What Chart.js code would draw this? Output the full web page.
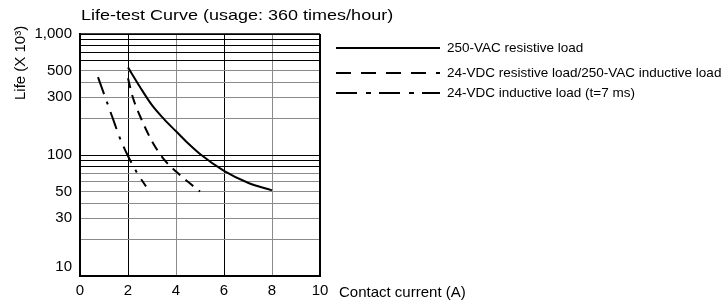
<!DOCTYPE html>
<html>
<head>
<meta charset="utf-8">
<script src="https://cdn.jsdelivr.net/npm/chart.js@4.4.1/dist/chart.umd.min.js"></script>
<style>
  html, body { margin: 0; padding: 0; background: #fff; }
  #wrap { width: 721px; height: 302px; position: relative; }
</style>
</head>
<body>
<div id="wrap"><canvas id="lifeChart"></canvas></div>
<script>
const chartTitle = 'Life-test Curve (usage: 360 times/hour)';
const yTitle = 'Life (X 10³)';
const xTitle = 'Contact current (A)';
const seriesNames = [
    '250-VAC resistive load',
    '24-VDC resistive load/250-VAC inductive load',
    '24-VDC inductive load (t=7 ms)'
];

// current (A) and life (x 10^3 operations)
const resistiveX = [2, 2.5, 3, 3.5, 4, 4.5, 5, 6, 7, 8];
const resistiveY = [530, 365, 258, 198, 157, 125, 102, 74, 59, 51];
const dcResistiveX = [2, 2.2, 2.5, 3, 3.5, 4, 4.5, 5];
const dcResistiveY = [430, 300, 210, 130, 92, 73, 60, 50];
const dcInductiveX = [0.75, 1.05, 1.35, 1.65, 2, 2.4, 2.75];
const dcInductiveY = [440, 300, 205, 140, 98, 70, 55];

const xTickValues = [0, 2, 4, 6, 8, 10];
const yGridValues = [10, 20, 30, 40, 50, 60, 70, 80, 90, 100, 200, 300, 400, 500, 600, 700, 800, 900, 1000];
const yLabelValues = [10, 30, 50, 100, 300, 500, 1000];
const yDarkLines = [100, 90, 80, 600, 700, 800, 900, 1000];
const xDarkLines = [2, 6, 10];

const FONT = '"Liberation Sans", Arial, sans-serif';
const dashes = [[], [10, 7], [18, 8, 3, 8]];
const legendDashes = [[], [15, 10], [21, 9, 5, 8]];

function toPoints(xs, ys) {
    return xs.map((x, i) => ({ x: x, y: ys[i] }));
}

const seriesPoints = [
    toPoints(resistiveX, resistiveY),
    toPoints(dcResistiveX, dcResistiveY),
    toPoints(dcInductiveX, dcInductiveY)
];

// title, axis titles and legend sit outside the plot like in the datasheet
const sheetText = {
    id: 'sheetText',
    afterDraw(chart) {
        const ctx = chart.ctx;
        ctx.save();
        ctx.fillStyle = '#000';
        ctx.textAlign = 'left';
        ctx.textBaseline = 'alphabetic';
        ctx.font = '15px ' + FONT;

        // the datasheet title is set wide
        ctx.save();
        ctx.translate(81, 20);
        ctx.scale(1.2, 1);
        ctx.fillText(chartTitle, 0, 0);
        ctx.restore();

        ctx.fillText(xTitle, 339, 297);

        ctx.save();
        ctx.translate(25, 100);
        ctx.rotate(-Math.PI / 2);
        ctx.fillText(yTitle, 0, 0);
        ctx.restore();

        const rows = [48, 73, 93];
        ctx.font = '13.5px ' + FONT;
        ctx.textBaseline = 'middle';
        rows.forEach((y, i) => {
            ctx.strokeStyle = '#000';
            ctx.lineWidth = 2;
            ctx.setLineDash(legendDashes[i]);
            ctx.beginPath();
            ctx.moveTo(336, y);
            ctx.lineTo(440, y);
            ctx.stroke();
            ctx.setLineDash([]);
            ctx.fillText(seriesNames[i], 447, y);
        });

        // frame on top and right
        const a = chart.chartArea;
        ctx.strokeStyle = '#000';
        ctx.beginPath();
        ctx.lineWidth = 1.5;
        ctx.moveTo(a.left, a.top);
        ctx.lineTo(a.right, a.top);
        ctx.stroke();
        ctx.beginPath();
        ctx.lineWidth = 2;
        ctx.moveTo(a.right, a.top);
        ctx.lineTo(a.right, a.bottom);
        ctx.stroke();
        ctx.restore();
    }
};

function yLabel(v) {
    if (!yLabelValues.includes(v)) return '';
    const s = v.toLocaleString('en-US');
    // bottom label sits a bit above the axis in the original
    return v === 10 ? [s, ''] : s;
}

const ctx = document.getElementById('lifeChart').getContext('2d');
const lifeChart = new Chart(ctx, {
    type: 'line',
    data: {
        datasets: seriesPoints.map((pts, i) => ({
            label: seriesNames[i],
            data: pts,
            borderColor: '#000',
            borderWidth: 2,
            borderDash: dashes[i],
            pointRadius: 0,
            fill: false,
            cubicInterpolationMode: 'monotone'
        }))
    },
    options: {
        responsive: true,
        maintainAspectRatio: false,
        animation: false,
        layout: { padding: { left: 0, top: 34, right: 401, bottom: 0 } },
        plugins: {
            legend: { display: false },
            title: { display: false },
            tooltip: { enabled: false }
        },
        scales: {
            x: {
                type: 'linear',
                min: 0,
                max: 10,
                afterBuildTicks: scale => {
                    scale.ticks = xTickValues.map(v => ({ value: v }));
                },
                afterFit: scale => { scale.height = 25; },
                ticks: {
                    color: '#000',
                    font: { family: FONT, size: 15 },
                    padding: 6,
                    maxRotation: 0
                },
                grid: {
                    drawTicks: false,
                    lineWidth: 1,
                    color: c => xDarkLines.includes(c.tick.value) ? '#000' : '#8a8a8a'
                },
                border: { color: '#000', width: 2 }
            },
            y: {
                type: 'logarithmic',
                min: 10,
                max: 1000,
                afterBuildTicks: scale => {
                    scale.ticks = yGridValues.map(v => ({ value: v }));
                },
                afterFit: scale => { scale.width = 80; },
                ticks: {
                    color: '#000',
                    autoSkip: false,
                    font: { family: FONT, size: 15 },
                    padding: 8,
                    callback: v => yLabel(v)
                },
                grid: {
                    drawTicks: false,
                    lineWidth: 1,
                    color: c => yDarkLines.includes(c.tick.value) ? '#000' : '#8a8a8a'
                },
                border: { color: '#000', width: 2 }
            }
        }
    },
    plugins: [sheetText]
});
</script>
</body>
</html>
